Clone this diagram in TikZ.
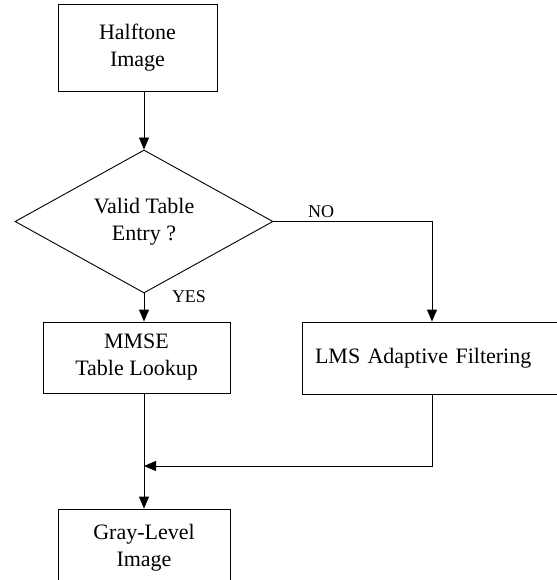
\documentclass[tikz,border=0pt]{standalone}
\usepackage{fontspec}
\setmainfont{Liberation Serif}
\usetikzlibrary{arrows.meta,shapes.geometric}
\begin{document}
\begin{tikzpicture}[
    x=1pt, y=-1pt,
    every node/.style={align=center, font=\fontsize{22}{27}\selectfont},
    block/.style={draw, line width=0.9pt, inner sep=0pt},
    decision/.style={draw, line width=0.9pt, diamond, inner sep=0pt, aspect=1.8},
    flow line/.style={draw, line width=0.9pt},
    flow arrow/.style={draw, line width=0.9pt, -{Triangle[length=12pt,width=10pt]}},
    branch label/.style={font=\fontsize{18}{20}\selectfont},
    ]
\useasboundingbox (0,0) rectangle (556,580);
\node[block, minimum width=159, minimum height=87] (halftone) at (137.5,47.5) {Halftone\\Image};
\node[decision, minimum width=258, minimum height=143] (valid) at (144,221.5) {Valid Table\\Entry ?};
\node[block, minimum width=187, minimum height=71] (mmse) at (136.5,357.5) {MMSE\\Table Lookup};
\node[block, minimum height=72, text width=234, inner xsep=13pt, align=left] (lms) at (432,358) {LMS Adaptive Filtering};
\node[block, minimum width=172, minimum height=78] (gray) at (144,548) {Gray-Level\\Image};
\coordinate (join) at (144,466);
\node[branch label] (no) at (321,212) {NO};
\node[branch label] (yes) at (189,297) {YES};
\draw[flow arrow] (valid.north |- halftone.south) -- (valid.north);
\draw[flow arrow] (valid.east) -| (lms.north);
\draw[flow arrow] (valid.south) -- (valid.south |- mmse.north);
\draw[flow arrow] (gray.north |- mmse.south) -- (gray.north);
\draw[flow arrow] (lms.south) |- (join);
\end{tikzpicture}
\end{document}
